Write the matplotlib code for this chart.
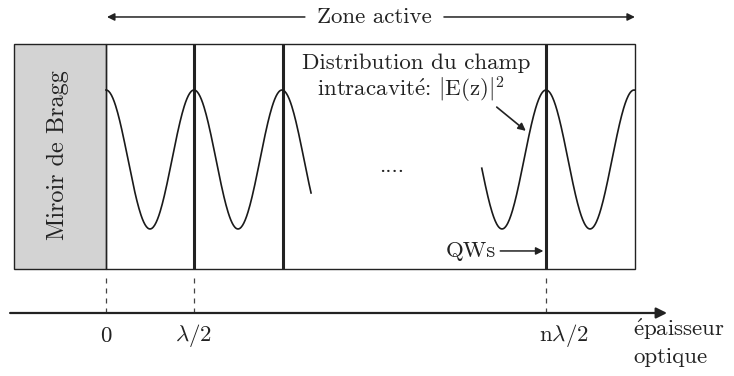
import numpy as np
import matplotlib.pyplot as plt
from matplotlib.patches import Rectangle

plt.rcParams['font.family'] = ['cmr10', 'DejaVu Serif']
plt.rcParams['mathtext.fontset'] = 'cm'
plt.rcParams['axes.unicode_minus'] = False

# positions in units of lambda/2 (optical thickness)
mirror_span = [-1.045, 0.0]
cavity_span = [0.0, 6.01]
box_y = [0.5, 3.057]
qw_positions = [1.0, 2.01, 5.0]
field_segments = [(0.0, 2.33), (4.27, 6.01)]
field_peaks = [0.0, 5.0]          # reference peak for each segment
field_max, field_min = 2.534, 0.955
dashed_ticks = [0.0, 1.0, 5.0]
tick_labels = ['0', r'$\lambda/2$', r'$\mathrm{n}\lambda/2$']
tick_label_x = [0.0, 1.0, 5.2]

fig = plt.figure(figsize=(7.34, 3.76), dpi=100)
ax = fig.add_axes([0, 0, 1, 1])
ax.set_xlim(-1.2045, 7.136)
ax.set_ylim(-0.716, 3.557)
ax.axis('off')

fs = 16.5
tc = '#222222'

# Bragg mirror + cavity box
ax.add_patch(Rectangle((mirror_span[0], box_y[0]), mirror_span[1] - mirror_span[0],
                       box_y[1] - box_y[0], facecolor='#d3d3d3', edgecolor=tc, lw=1.0))
ax.add_patch(Rectangle((cavity_span[0], box_y[0]), cavity_span[1] - cavity_span[0],
                       box_y[1] - box_y[0], facecolor='none', edgecolor=tc, lw=1.0))
ax.text(-0.545, 1.795, 'Miroir de Bragg', rotation=90, ha='center', va='center',
        fontsize=17.5, color=tc)

# quantum wells
for q in qw_positions:
    ax.plot([q, q], box_y, color=tc, lw=2.2, solid_capstyle='butt')

# field distribution |E(z)|^2
mid = (field_max + field_min) / 2
amp = (field_max - field_min) / 2
for (a, b), p in zip(field_segments, field_peaks):
    z = np.linspace(a, b, 300)
    ax.plot(z, mid + amp * np.cos(2 * np.pi * (z - p)), color='#1a1a1a', lw=1.2)

# top "Zone active" arrows
arrow_kw = dict(arrowstyle='-|>', color=tc, lw=1.1, mutation_scale=11,
                shrinkA=0, shrinkB=0)
ax.annotate('', xy=(0.011, 3.364), xytext=(2.26, 3.364), arrowprops=arrow_kw)
ax.annotate('', xy=(6.01, 3.364), xytext=(3.84, 3.364), arrowprops=arrow_kw)
ax.text(3.05, 3.364, 'Zone active', ha='center', va='center', fontsize=fs, color=tc)

# annotation text
ax.text(3.52, 2.84, 'Distribution du champ', ha='center', va='center', fontsize=fs,
        color=tc)
ax.text(3.47, 2.534, r'intracavit$\acute{\mathrm{e}}$: $|\mathrm{E(z)}|^2$', ha='center',
        va='center', fontsize=fs, color=tc)
ax.annotate('', xy=(4.77, 2.07), xytext=(4.44, 2.34),
            arrowprops=dict(arrowstyle='-|>', color=tc, lw=1.2, mutation_scale=11,
                            shrinkA=0, shrinkB=0))
ax.text(3.25, 1.67, '....', ha='center', va='center', fontsize=fs, color=tc)

ax.text(4.43, 0.705, 'QWs', ha='right', va='center', fontsize=fs, color=tc)
ax.annotate('', xy=(4.97, 0.705), xytext=(4.48, 0.705), arrowprops=arrow_kw)

# optical thickness axis
ax.annotate('', xy=(6.375, 0.0), xytext=(-1.09, 0.0),
            arrowprops=dict(arrowstyle='-|>', color=tc, lw=1.6, mutation_scale=16,
                            shrinkA=0, shrinkB=0))
for d in dashed_ticks:
    ax.plot([d, d], [0.0, 0.398], color='#444444', lw=0.9, ls=(0, (4, 4)))
for lx, lab in zip(tick_label_x, tick_labels):
    ax.text(lx, -0.26, lab, ha='center', va='center', fontsize=fs, color=tc)
ax.text(5.99, -0.19, r'$\acute{\mathrm{e}}$paisseur', ha='left', va='center',
        fontsize=fs, color=tc)
ax.text(5.99, -0.50, 'optique', ha='left', va='center', fontsize=fs, color=tc)

fig.savefig('out.png', dpi=100)
